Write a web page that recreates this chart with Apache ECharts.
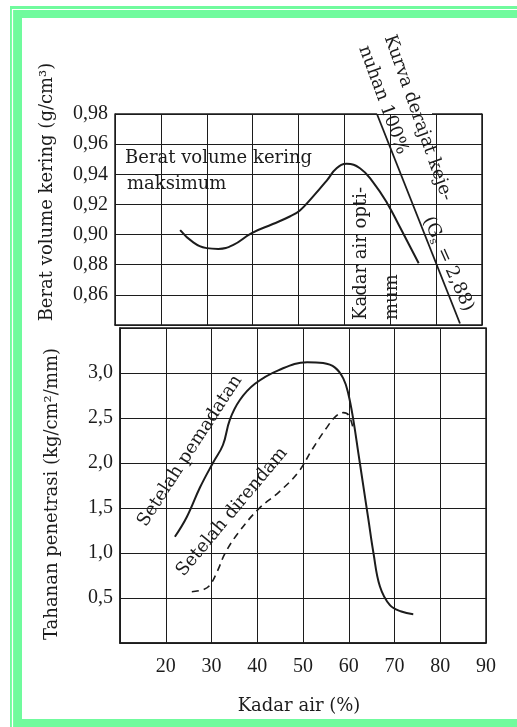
<!DOCTYPE html>
<html>
<head>
<meta charset="utf-8">
<script src="https://cdn.jsdelivr.net/npm/echarts@6/dist/echarts.min.js"></script>
<style>
html,body{margin:0;padding:0;background:#ffffff;}
#c{width:517px;height:727px;}
</style>
</head>
<body>
<div id="c"></div>
<script>
// ---- data ----
const xTickValues = [20, 30, 40, 50, 60, 70, 80, 90];
const xTickLabels = ['20', '30', '40', '50', '60', '70', '80', '90'];
const topTickValues = [0.86, 0.88, 0.90, 0.92, 0.94, 0.96, 0.98];
const topTickLabels = ['0,86', '0,88', '0,90', '0,92', '0,94', '0,96', '0,98'];
const botTickValues = [0.5, 1.0, 1.5, 2.0, 2.5, 3.0];
const botTickLabels = ['0,5', '1,0', '1,5', '2,0', '2,5', '3,0'];

// Berat volume kering vs kadar air
const dryX = [24.2, 27.0, 30.0, 32.5, 35.7, 39.8, 44.4, 48.1, 50.3, 53.1, 56.2, 58.3, 60.5, 63.4, 66.2, 69.3, 72.1, 76.2];
const dryY = [0.903, 0.895, 0.891, 0.8905, 0.893, 0.901, 0.907, 0.912, 0.916, 0.925, 0.936, 0.944, 0.947, 0.944, 0.935, 0.921, 0.905, 0.881];

// Kurva derajat kejenuhan 100% (Gs = 2,88)
const satX = [67.1, 85.2];
const satY = [0.98, 0.841];

// Tahanan penetrasi: setelah pemadatan
const compX = [22.0, 24.6, 27.5, 30.3, 32.5, 34.0, 36.2, 39.5, 44.6, 50.9, 54.4, 57.0, 58.8, 59.9, 61.0, 62.1, 63.2, 64.3, 65.4, 66.8, 69.0, 71.5, 74.1];
const compY = [1.18, 1.40, 1.73, 2.00, 2.20, 2.48, 2.70, 2.88, 3.03, 3.12, 3.11, 3.06, 2.94, 2.77, 2.48, 2.11, 1.74, 1.37, 1.00, 0.63, 0.42, 0.35, 0.32];

// Tahanan penetrasi: setelah direndam
const soakX = [25.7, 28.0, 29.6, 31.3, 33.0, 35.8, 40.3, 44.8, 49.0, 52.0, 55.0, 57.2, 58.8, 60.0, 61.0];
const soakY = [0.57, 0.59, 0.64, 0.80, 1.00, 1.22, 1.49, 1.68, 1.90, 2.15, 2.38, 2.52, 2.56, 2.53, 2.37];

// ---- chart ----
const INK = '#1c1c1c';
const GREEN = '#70fb9d';
const TICK_FONT = 'Liberation Serif';
const TEXT_FONT = 'DejaVu Serif';
const zip = (a, b) => a.map((v, i) => [v, b[i]]);
const lookup = (vals, labels) => v => {
  const i = vals.findIndex(t => Math.abs(t - v) < 1e-6);
  return i < 0 ? '' : labels[i];
};
const topGapEnd = 79.1;

const chart = echarts.init(document.getElementById('c'), null, {renderer: 'canvas'});
const deg = d => d * Math.PI / 180;
function txt(text, x, y, rot, opts) {
  return Object.assign({
    type: 'text', x: x, y: y, rotation: rot || 0, z: 50,
    style: {text: text, font: '18px "' + TEXT_FONT + '"', fill: INK, align: 'center', verticalAlign: 'middle'}
  }, opts || {});
}

const option = {
  backgroundColor: '#ffffff',
  animation: false,
  grid: [
    {left: 115, top: 114, width: 367, height: 211, show: false},
    {left: 120, top: 328, width: 366, height: 315, show: true, borderColor: INK, borderWidth: 1.5, backgroundColor: 'transparent'}
  ],
  xAxis: [
    {type: 'value', gridIndex: 0, min: 10, max: 90, interval: 10,
     axisLine: {show: true, onZero: false, lineStyle: {color: INK, width: 1.5}},
     axisTick: {show: false}, axisLabel: {show: false},
     splitLine: {show: true, lineStyle: {color: INK, width: 1}}},
    {type: 'value', gridIndex: 1, min: 10, max: 90, interval: 10,
     axisLine: {show: true, onZero: false, lineStyle: {color: INK, width: 1.5}},
     axisTick: {show: false},
     axisLabel: {show: true, margin: 14, color: INK, fontFamily: TICK_FONT, fontSize: 20,
                 formatter: lookup(xTickValues, xTickLabels)},
     splitLine: {show: true, lineStyle: {color: INK, width: 1}}}
  ],
  yAxis: [
    {type: 'value', gridIndex: 0, min: 0.84, max: 0.98, interval: 0.02,
     axisLine: {show: true, onZero: false, lineStyle: {color: INK, width: 1.5}},
     axisTick: {show: false},
     axisLabel: {show: true, margin: 7, color: INK, fontFamily: TICK_FONT, fontSize: 20,
                 formatter: lookup(topTickValues, topTickLabels)},
     splitLine: {show: true, lineStyle: {color: INK, width: 1}}},
    {type: 'value', gridIndex: 1, min: 0, max: 3.5, interval: 0.5,
     axisLine: {show: true, onZero: false, lineStyle: {color: INK, width: 1.5}},
     axisTick: {show: false},
     axisLabel: {show: true, margin: 7, color: INK, fontFamily: TICK_FONT, fontSize: 20,
                 formatter: lookup(botTickValues, botTickLabels)},
     splitLine: {show: true, lineStyle: {color: INK, width: 1}}},
    {type: 'value', gridIndex: 0, position: 'right', min: 0.84, max: 0.98, interval: 0.02,
     axisLine: {show: true, onZero: false, lineStyle: {color: INK, width: 1.5}},
     axisTick: {show: false}, axisLabel: {show: false}, splitLine: {show: false}}
  ],
  series: [
    {name: 'Berat volume kering', type: 'line', xAxisIndex: 0, yAxisIndex: 0,
     data: zip(dryX, dryY), smooth: 0.45, symbol: 'none', clip: false,
     lineStyle: {color: INK, width: 2}},
    {name: 'Kurva derajat kejenuhan 100%', type: 'line', xAxisIndex: 0, yAxisIndex: 0,
     data: zip(satX, satY), symbol: 'none', clip: false,
     lineStyle: {color: INK, width: 1.8},
     markLine: {silent: true, symbol: 'none', label: {show: false},
       lineStyle: {color: INK, width: 1.5, type: 'solid'},
       data: [
         [{coord: [10, satY[0]]}, {coord: [satX[0], satY[0]]}],
         [{coord: [topGapEnd, satY[0]]}, {coord: [90, satY[0]]}]
       ]}},
    {name: 'Setelah pemadatan', type: 'line', xAxisIndex: 1, yAxisIndex: 1,
     data: zip(compX, compY), smooth: 0.4, symbol: 'none', clip: false,
     lineStyle: {color: INK, width: 2}},
    {name: 'Setelah direndam', type: 'line', xAxisIndex: 1, yAxisIndex: 1,
     data: zip(soakX, soakY), smooth: 0.4, symbol: 'none', clip: false,
     lineStyle: {color: INK, width: 1.6, type: [7, 5]}}
  ],
  graphic: [
    // green frame
    {type: 'rect', shape: {x: 10, y: 6, width: 12, height: 721}, style: {fill: GREEN}, z: 1},
    {type: 'rect', shape: {x: 10, y: 6, width: 507, height: 12}, style: {fill: GREEN}, z: 1},
    {type: 'rect', shape: {x: 10, y: 719, width: 507, height: 8}, style: {fill: GREEN}, z: 1},
    {type: 'line', shape: {x1: 12.5, y1: 9, x2: 12.5, y2: 727}, style: {stroke: '#ffffff', lineWidth: 1.2}, z: 2},
    {type: 'line', shape: {x1: 12.5, y1: 9.5, x2: 517, y2: 9.5}, style: {stroke: '#ffffff', lineWidth: 1.2}, z: 2},
    // axis titles
    txt('Berat volume kering (g/cm³)', 47, 192, Math.PI / 2),
    txt('Tahanan penetrasi (kg/cm²/mm)', 52, 494, Math.PI / 2),
    txt('Kadar air (%)', 299, 706, 0),
    // annotations
    txt('Berat volume kering', 125, 158, 0, {style: {text: 'Berat volume kering', font: '18px "' + TEXT_FONT + '"', fill: INK, align: 'left', verticalAlign: 'middle'}}),
    txt('maksimum', 127, 184, 0, {style: {text: 'maksimum', font: '18px "' + TEXT_FONT + '"', fill: INK, align: 'left', verticalAlign: 'middle'}}),
    txt('Kurva derajat keje-', 418, 118, deg(-70.5)),
    txt('nuhan 100%', 383, 100, deg(-70)),
    {type: 'text', x: 448, y: 264, rotation: deg(-66), z: 50,
     style: {text: '(G{s|s} = 2,88)', font: '18px "' + TEXT_FONT + '"', fill: INK, align: 'center', verticalAlign: 'middle',
             rich: {s: {fontFamily: TEXT_FONT, fontSize: 11, fill: INK, padding: [9, 1, 0, 0]}}}},
    txt('Kadar air opti-', 361, 320, Math.PI / 2, {style: {text: 'Kadar air opti-', font: '18px "' + TEXT_FONT + '"', fill: INK, align: 'left', verticalAlign: 'middle'}}),
    txt('mum', 392, 320, Math.PI / 2, {style: {text: 'mum', font: '18px "' + TEXT_FONT + '"', fill: INK, align: 'left', verticalAlign: 'middle'}}),
    txt('Setelah pemadatan', 190, 451, deg(57)),
    txt('Setelah direndam', 232, 512, deg(50))
  ]
};
chart.setOption(option);
</script>
</body>
</html>
